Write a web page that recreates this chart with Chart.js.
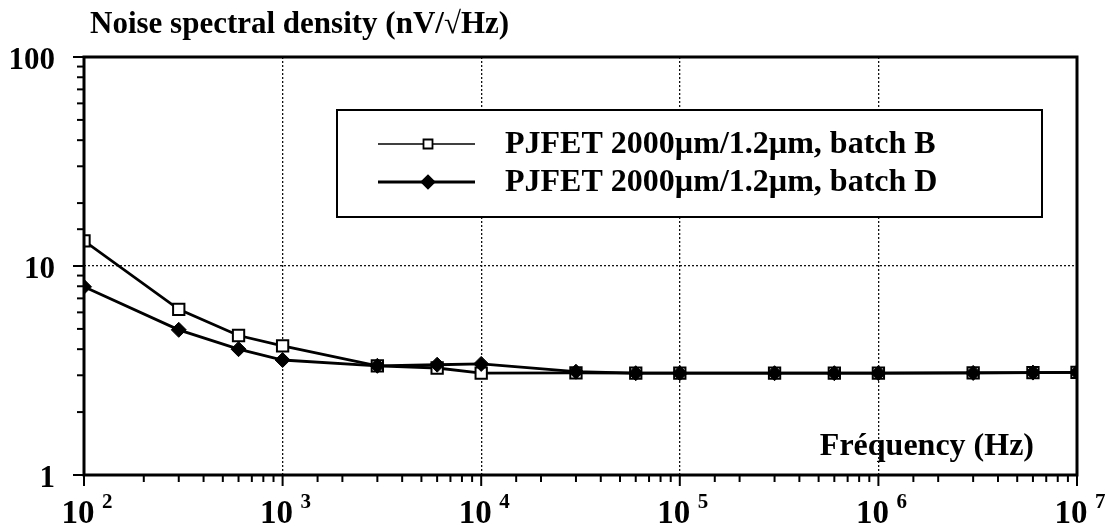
<!DOCTYPE html>
<html><head><meta charset="utf-8">
<script src="https://cdn.jsdelivr.net/npm/chart.js@4/dist/chart.umd.min.js"></script>
<style>html,body{margin:0;padding:0;background:#fff}#wrap{width:1106px;height:532px;position:relative}</style>
</head><body><div id="wrap"><canvas id="c"></canvas></div>
<script>
const frequencies = [100, 300, 600, 1000, 3000, 6000, 10000, 30000, 60000, 100000, 300000, 600000, 1000000, 3000000, 6000000, 10000000];
const noiseBatchB = [13.2, 6.2, 4.65, 4.15, 3.33, 3.25, 3.07, 3.08, 3.07, 3.07, 3.07, 3.07, 3.07, 3.08, 3.09, 3.1];
const noiseBatchD = [7.95, 4.95, 4.0, 3.55, 3.33, 3.37, 3.4, 3.12, 3.07, 3.07, 3.07, 3.07, 3.07, 3.08, 3.09, 3.1];
const seriesLabels = ['PJFET 2000\u00b5m/1.2\u00b5m, batch B', 'PJFET 2000\u00b5m/1.2\u00b5m, batch D'];
const xTickBase = '10';
const xTickExponents = ['2', '3', '4', '5', '6', '7'];
const xTickValues = [1e2, 1e3, 1e4, 1e5, 1e6, 1e7];
const yTickValues = [1, 10, 100];
const yTickLabels = ['1', '10', '100'];
const yAxisTitle = 'Noise spectral density (nV/\u221aHz)';
const xAxisTitle = 'Fr\u00e9quency (Hz)';

const FONT = '"Liberation Serif", "Times New Roman", serif';
const isMajor = v => Math.abs(Math.log10(v) - Math.round(Math.log10(v))) < 1e-9;

const decorPlugin = {
  id: 'decor',
  afterDraw(chart) {
    const ctx = chart.ctx, a = chart.chartArea;
    const xs = chart.scales.x, ys = chart.scales.y;
    ctx.save();
    ctx.strokeStyle = '#000';
    ctx.fillStyle = '#000';
    // frame
    ctx.lineWidth = 3;
    ctx.strokeRect(a.left, a.top, a.right - a.left, a.bottom - a.top);
    // tick marks
    ctx.lineWidth = 2;
    xs.ticks.forEach(t => {
      const px = xs.getPixelForValue(t.value);
      const len = isMajor(t.value) ? 11 : 7;
      ctx.beginPath(); ctx.moveTo(px, a.bottom); ctx.lineTo(px, a.bottom + len); ctx.stroke();
    });
    ys.ticks.forEach(t => {
      const py = ys.getPixelForValue(t.value);
      const len = isMajor(t.value) ? 11 : 7;
      ctx.beginPath(); ctx.moveTo(a.left, py); ctx.lineTo(a.left - len, py); ctx.stroke();
    });
    // y tick labels
    ctx.font = 'bold 31px ' + FONT;
    ctx.textAlign = 'right'; ctx.textBaseline = 'middle';
    yTickValues.forEach((v, i) => {
      ctx.fillText(yTickLabels[i], a.left - 29, ys.getPixelForValue(v) + 4);
    });
    // x tick labels with superscripts
    ctx.textBaseline = 'alphabetic';
    xTickValues.forEach((v, i) => {
      const px = xs.getPixelForValue(v);
      ctx.font = 'bold 33px ' + FONT;
      ctx.textAlign = 'center';
      ctx.fillText(xTickBase, px - 6, 523);
      ctx.font = 'bold 21px ' + FONT;
      ctx.textAlign = 'left';
      ctx.fillText(xTickExponents[i], px + 18, 508);
    });
    // titles
    ctx.font = 'bold 31px ' + FONT;
    ctx.textAlign = 'left';
    ctx.fillText(yAxisTitle, a.left + 6, 33);
    ctx.font = 'bold 32px ' + FONT;
    ctx.textAlign = 'right';
    ctx.fillText(xAxisTitle, a.right - 43, 455);
    // legend box
    const lx = 337, ly = 110, lw = 705, lh = 107;
    ctx.fillStyle = '#fff';
    ctx.fillRect(lx, ly, lw, lh);
    ctx.lineWidth = 2;
    ctx.strokeStyle = '#000';
    ctx.strokeRect(lx, ly, lw, lh);
    const rows = [144, 182];
    chart.data.datasets.forEach((ds, i) => {
      const y = rows[i];
      ctx.strokeStyle = '#000';
      ctx.lineWidth = i === 0 ? 1.6 : 2.8;
      ctx.beginPath(); ctx.moveTo(378, y); ctx.lineTo(475, y); ctx.stroke();
      ctx.fillStyle = ds.pointBackgroundColor;
      ctx.beginPath();
      if (ds.pointStyle === 'rect') {
        const s = 4.5;
        ctx.rect(428 - s, y - s, 2 * s, 2 * s);
      } else {
        const r = 6.5;
        ctx.moveTo(428 - r, y); ctx.lineTo(428, y - r); ctx.lineTo(428 + r, y); ctx.lineTo(428, y + r); ctx.closePath();
      }
      ctx.fill(); ctx.lineWidth = 1.8; ctx.stroke();
      ctx.fillStyle = '#000';
      ctx.font = 'bold 32px ' + FONT;
      ctx.textAlign = 'left'; ctx.textBaseline = 'middle';
      ctx.fillText(ds.label, 505, y + 1);
    });
    ctx.restore();
  }
};

const toPoints = (xsArr, ysArr) => xsArr.map((x, i) => ({x: x, y: ysArr[i]}));

new Chart(document.getElementById('c'), {
  type: 'line',
  data: {
    datasets: [
      {
        label: seriesLabels[0], data: toPoints(frequencies, noiseBatchB),
        borderColor: '#000', borderWidth: 2.8, pointStyle: 'rect', pointRadius: 8,
        pointBackgroundColor: '#fff', pointBorderColor: '#000', pointBorderWidth: 2, order: 1, tension: 0
      },
      {
        label: seriesLabels[1], data: toPoints(frequencies, noiseBatchD),
        borderColor: '#000', borderWidth: 2.8, pointStyle: 'rectRot', pointRadius: 7.5,
        pointBackgroundColor: '#000', pointBorderColor: '#000', pointBorderWidth: 1, order: 0, tension: 0
      }
    ]
  },
  options: {
    responsive: true, maintainAspectRatio: false, animation: false,
    devicePixelRatio: 1,
    layout: {padding: {left: 84, right: 29, top: 57, bottom: 57}},
    plugins: {legend: {display: false}, tooltip: {enabled: false}, title: {display: false}},
    scales: {
      x: {
        type: 'logarithmic', min: 100, max: 1e7,
        ticks: {display: false},
        grid: {drawTicks: false, lineWidth: 1.3, color: c => (c.tick && isMajor(c.tick.value)) ? '#111' : 'rgba(0,0,0,0)'},
        border: {display: false, dash: [2, 2]}
      },
      y: {
        type: 'logarithmic', min: 1, max: 100,
        ticks: {display: false},
        grid: {drawTicks: false, lineWidth: 1.3, color: c => (c.tick && isMajor(c.tick.value)) ? '#111' : 'rgba(0,0,0,0)'},
        border: {display: false, dash: [2, 2]}
      }
    }
  },
  plugins: [decorPlugin]
});
</script>
</body></html>
